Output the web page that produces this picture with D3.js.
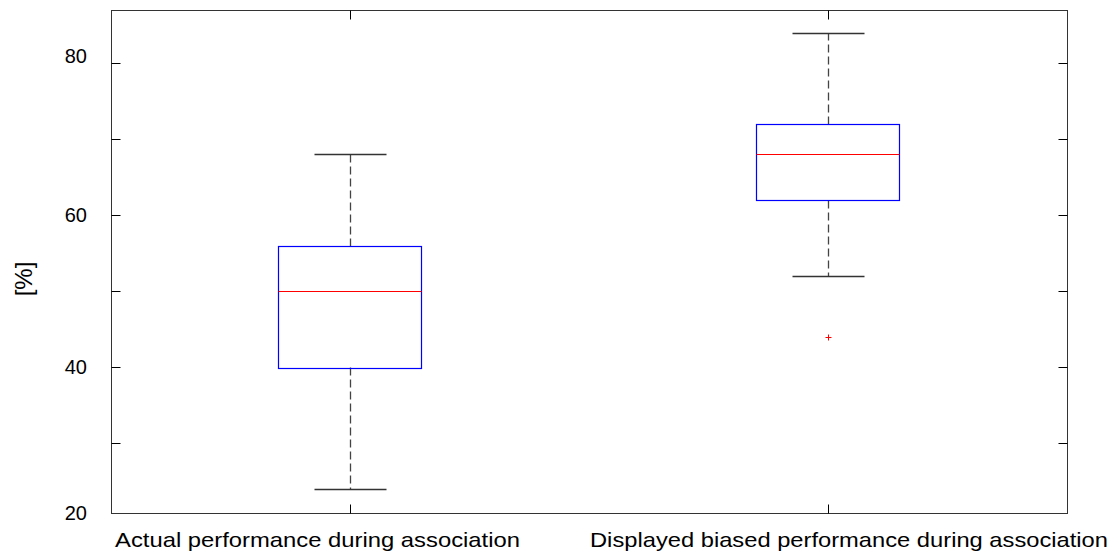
<!DOCTYPE html>
<html>
<head>
<meta charset="utf-8">
<script src="https://cdn.jsdelivr.net/npm/d3@7"></script>
<style>
  html, body { margin: 0; padding: 0; background: #fff; }
  svg { display: block; font-family: "Liberation Sans", Arial, sans-serif; }
</style>
</head>
<body>
<svg id="chart" width="1117" height="555"></svg>
<script>
// Groups and their box-plot summaries (percent)
const categories = [
  "Actual performance during association",
  "Displayed biased performance during association"
];
const whiskerLow  = [24, 52];
const quartile1   = [40, 62];
const medians     = [50, 68];
const quartile3   = [56, 72];
const whiskerHigh = [68, 84];
const outliers    = [[], [44]];

const yTicks = [20, 30, 40, 50, 60, 70, 80];
const yTickLabels = ["20", "", "40", "", "60", "", "80"];
const yLimits = [20.87, 87];

(function () {
  const svg = d3.select("#chart");
  const plotLeft = 110.7, plotRight = 1067, plotTop = 10, plotBottom = 512.7;

  const x = d3.scalePoint().domain(categories).range([plotLeft, plotRight]).padding(0.5);
  const y = d3.scaleLinear().domain(yLimits).range([plotBottom, plotTop]);
  const step = x.step();
  const boxW = step * 0.3;
  const capW = boxW / 2;

  const px = v => Math.round(v) + 0.5;

  // axes frame
  svg.append("rect")
    .attr("x", px(plotLeft)).attr("y", px(plotTop))
    .attr("width", Math.round(plotRight - plotLeft)).attr("height", Math.round(plotBottom - plotTop))
    .attr("fill", "none").attr("stroke", "#333").attr("stroke-width", 1);

  // inward ticks on left and right
  const tickLen = 9;
  const ticksIn = yTicks.filter(t => t >= yLimits[0]);
  svg.append("g").selectAll("line").data(ticksIn).join("line")
    .attr("x1", px(plotLeft)).attr("x2", px(plotLeft) + tickLen)
    .attr("y1", d => px(y(d))).attr("y2", d => px(y(d)))
    .attr("stroke", "#000");
  svg.append("g").selectAll("line").data(ticksIn).join("line")
    .attr("x1", px(plotRight)).attr("x2", px(plotRight) - tickLen)
    .attr("y1", d => px(y(d))).attr("y2", d => px(y(d)))
    .attr("stroke", "#000");
  // inward ticks on top and bottom at group positions
  svg.append("g").selectAll("line").data(categories).join("line")
    .attr("x1", d => px(x(d))).attr("x2", d => px(x(d)))
    .attr("y1", px(plotTop)).attr("y2", px(plotTop) + tickLen)
    .attr("stroke", "#000");
  svg.append("g").selectAll("line").data(categories).join("line")
    .attr("x1", d => px(x(d))).attr("x2", d => px(x(d)))
    .attr("y1", px(plotBottom)).attr("y2", px(plotBottom) - tickLen)
    .attr("stroke", "#000");

  // y tick labels
  svg.append("g").selectAll("text").data(yTicks).join("text")
    .attr("x", 87)
    .attr("y", d => Math.min(y(d), plotBottom) - (d === 80 ? 7 : 0))
    .attr("dy", "0.36em")
    .attr("text-anchor", "end")
    .attr("font-size", 20)
    .attr("fill", "#000")
    .text((d, i) => yTickLabels[i]);

  // x category labels
  const labelSpans = [[115, 405], [590, 518]];
  svg.append("g").selectAll("text").data(categories).join("text")
    .attr("x", (d, i) => labelSpans[i][0])
    .attr("y", 547)
    .attr("text-anchor", "start")
    .attr("font-size", 21)
    .attr("textLength", (d, i) => labelSpans[i][1])
    .attr("lengthAdjust", "spacingAndGlyphs")
    .attr("fill", "#000")
    .text(d => d);

  // y axis title
  svg.append("text")
    .attr("transform", "translate(32, 279) rotate(-90)")
    .attr("text-anchor", "middle")
    .attr("font-size", 24)
    .attr("fill", "#000")
    .text("[%]");

  // boxes
  const g = svg.append("g");
  categories.forEach((c, i) => {
    const cx = px(x(c));
    // dashed whiskers
    g.append("line")
      .attr("x1", cx).attr("x2", cx)
      .attr("y1", px(y(quartile3[i]))).attr("y2", px(y(whiskerHigh[i])))
      .attr("stroke", "#444").attr("stroke-width", 1.3).attr("stroke-dasharray", "8,4");
    g.append("line")
      .attr("x1", cx).attr("x2", cx)
      .attr("y1", px(y(quartile1[i]))).attr("y2", px(y(whiskerLow[i])))
      .attr("stroke", "#444").attr("stroke-width", 1.3).attr("stroke-dasharray", "8,4");
    // caps
    [whiskerLow[i], whiskerHigh[i]].forEach(v => {
      g.append("line")
        .attr("x1", px(x(c) - capW / 2)).attr("x2", px(x(c) + capW / 2))
        .attr("y1", px(y(v))).attr("y2", px(y(v)))
        .attr("stroke", "#333").attr("stroke-width", 1.3);
    });
    // box
    g.append("rect")
      .attr("x", px(x(c) - boxW / 2))
      .attr("y", px(y(quartile3[i])))
      .attr("width", Math.round(boxW))
      .attr("height", Math.round(y(quartile1[i]) - y(quartile3[i])))
      .attr("fill", "none").attr("stroke", "#0000ff").attr("stroke-width", 1.2);
    // median
    g.append("line")
      .attr("x1", px(x(c) - boxW / 2)).attr("x2", px(x(c) - boxW / 2) + Math.round(boxW))
      .attr("y1", px(y(medians[i]))).attr("y2", px(y(medians[i])))
      .attr("stroke", "#ff0000");
    // outliers
    outliers[i].forEach(v => {
      const oy = px(y(v));
      g.append("path")
        .attr("d", `M${cx - 3},${oy}H${cx + 3}M${cx},${oy - 3}V${oy + 3}`)
        .attr("stroke", "#ff0000").attr("fill", "none");
    });
  });
})();
</script>
</body>
</html>
